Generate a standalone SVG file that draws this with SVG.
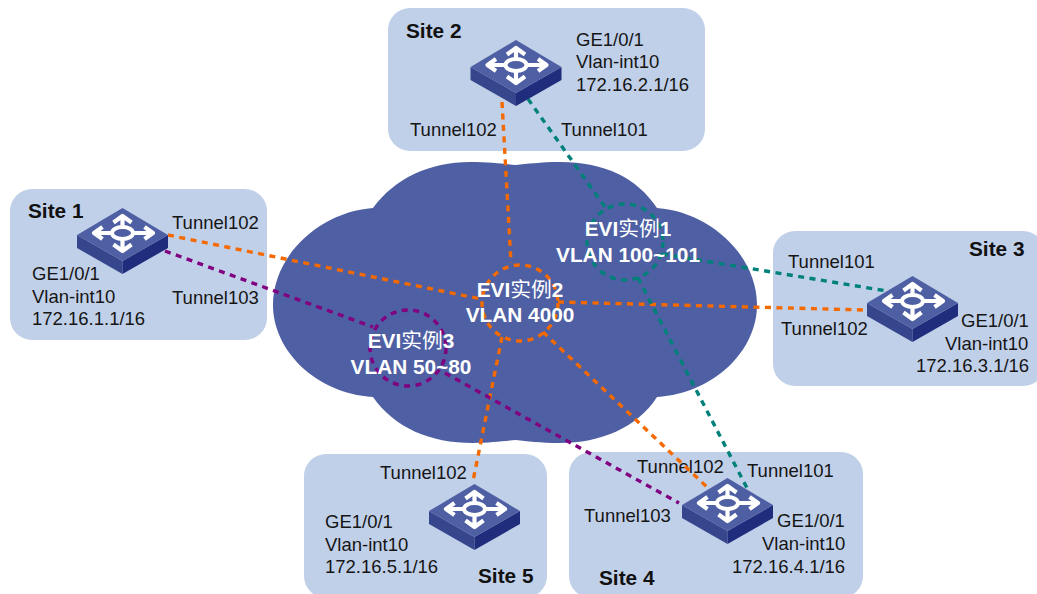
<svg xmlns="http://www.w3.org/2000/svg" width="1037" height="594" viewBox="0 0 1037 594">
<style>
text{font-family:"Liberation Sans",Arial,"Noto Sans CJK SC",sans-serif;font-size:18.5px;fill:#151515}
.b{font-weight:bold;font-size:20.8px;fill:#111}
.w{font-weight:bold;font-size:20.8px;fill:#fff;text-anchor:middle}
.n{font-weight:normal}
.site{fill:#c1d0e9}
.c{fill:none;stroke-width:3.4;stroke-dasharray:6 5.500}
.o{stroke:#f56a00}.g{stroke:#00807a}.p{stroke:#800080}
</style>
<defs>
<g id="sw">
<path d="M-45.500 0L0 26V39L-45.500 13Z" fill="#36468c"/>
<path d="M45.500 0L0 26V39L45.500 13Z" fill="#1f2d7c"/>
<path d="M-45.500 0L0 -27L45.500 0L0 26Z" fill="#4e5fa3"/>
<g fill="none" stroke="#fff" stroke-width="4.200">
<ellipse cx="0" cy="-2" rx="10.500" ry="6" stroke-width="4"/>
<path d="M0 -9V-19M-9 -12.500L0 -19L9 -12.500" stroke-linejoin="round"/>
<path d="M0 5V15M-9 9.500L0 16L9 9.500" stroke-linejoin="round"/>
<path d="M-11 -2H-28M-20 -8L-28.500 -2L-20 4" stroke-linejoin="round"/>
<path d="M11 -2H30M22 -8L30.500 -2L22 4" stroke-linejoin="round"/>
</g>
</g>
</defs>
<g id="site1"><rect class="site" x="10" y="189" width="257" height="151" rx="22"/><text class="b" x="28" y="218">Site 1</text><text x="172" y="229">Tunnel102</text><text x="172" y="304">Tunnel103</text><text x="32" y="280">GE1/0/1</text><text x="32" y="303">Vlan-int10</text><text x="32" y="325">172.16.1.1/16</text></g>
<g id="site2"><rect class="site" x="388" y="8" width="317" height="143" rx="22"/><text class="b" x="406" y="38">Site 2</text><text x="576" y="46">GE1/0/1</text><text x="576" y="68">Vlan-int10</text><text x="576" y="91">172.16.2.1/16</text><text x="410" y="136">Tunnel102</text><text x="561" y="136">Tunnel101</text></g>
<g id="site3"><rect class="site" x="773" y="231" width="272" height="155" rx="22"/><text class="b" x="969" y="256">Site 3</text><text x="788" y="268">Tunnel101</text><text x="781" y="335">Tunnel102</text><text x="961" y="327">GE1/0/1</text><text x="945" y="350">Vlan-int10</text><text x="916" y="372">172.16.3.1/16</text></g>
<g id="site4"><rect class="site" x="569" y="452" width="294" height="146" rx="22"/><text class="b" x="599" y="585">Site 4</text><text x="637" y="473">Tunnel102</text><text x="747" y="477">Tunnel101</text><text x="584" y="522">Tunnel103</text><text x="777" y="527">GE1/0/1</text><text x="762" y="550">Vlan-int10</text><text x="732" y="573">172.16.4.1/16</text></g>
<g id="site5"><rect class="site" x="304" y="454" width="243" height="144" rx="22"/><text class="b" x="478" y="583">Site 5</text><text x="380" y="479">Tunnel102</text><text x="325" y="528">GE1/0/1</text><text x="325" y="551">Vlan-int10</text><text x="325" y="573">172.16.5.1/16</text></g>
<path id="cloud" fill="#4e5fa3" d="M373 208C395 178 430 162 470 162C490 162 505 164 516 165C527 164 540 162 560 162C605 162 637 178 657 208C710 212 757 255 757 305C757 350 715 393 657 397C637 428 600 443 560 443C540 443 527 441 516 440C505 441 490 443 473 443C430 443 395 428 373 397C315 393 273 350 273 305C273 255 320 212 373 208Z"/>
<g id="connectors">
<path class="c o" d="M168 235L481 299M502 102L511 263M558 302L864 310M502 337L473 481M543 332L708 488"/>
<path class="c g" d="M528 99L605 207M662 254L887 291M638 278L747 488"/>
<path class="c p" d="M165 251L373 327M445 373L679 503"/>
<circle class="c o" cx="520" cy="303" r="38"/>
<circle class="c g" cx="625" cy="242" r="38"/>
<circle class="c p" cx="408" cy="348" r="38"/>
</g>
<g id="sw1"><use href="#sw" x="122.500" y="235"/></g>
<g id="sw2"><use href="#sw" x="516" y="67"/></g>
<g id="sw3"><use href="#sw" x="912.500" y="303"/></g>
<g id="sw4"><use href="#sw" x="727.500" y="505"/></g>
<g id="sw5"><use href="#sw" x="474.500" y="511"/></g>
<g id="evi"><text class="w" x="628" y="236">EVI<tspan class="n">实例</tspan>1</text><text class="w" x="628" y="262">VLAN 100~101</text><text class="w" x="520" y="297">EVI<tspan class="n">实例</tspan>2</text><text class="w" x="520" y="322">VLAN 4000</text><text class="w" x="411" y="348">EVI<tspan class="n">实例</tspan>3</text><text class="w" x="411" y="374">VLAN 50~80</text></g>
</svg>
